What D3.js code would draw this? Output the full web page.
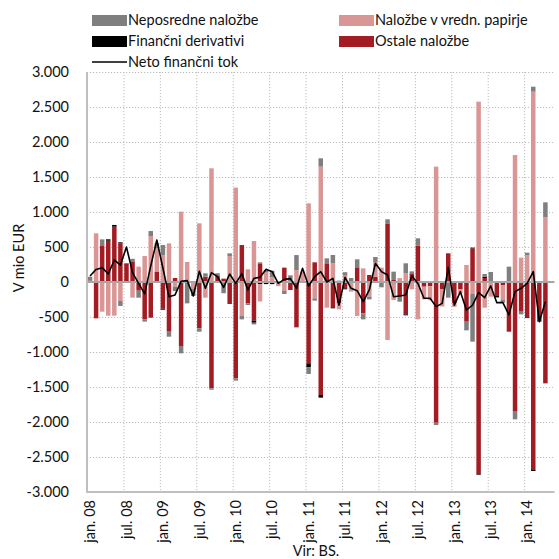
<!DOCTYPE html>
<html>
<head>
<meta charset="utf-8">
<script src="https://cdn.jsdelivr.net/npm/d3@7"></script>
<style>
  body { margin: 0; background: #fff; }
  svg { display: block; }
</style>
</head>
<body>
<script>
// monthly values, jan. 08 - apr. 14, mio EUR
const tickLabels = ["jan. 08", "jul. 08", "jan. 09", "jul. 09", "jan. 10", "jul. 10",
  "jan. 11", "jul. 11", "jan. 12", "jul. 12", "jan. 13", "jul. 13", "jan. 14"];
const monthCount = 77;

const nepos = [55, 0, 95, 0, 0, -71, 0, 45, -100, -33, 71, 71, 143, -71, -65, -105, -305, -100, -48, 48,
  -20, 30, -160, 38, -33, -48, -24, -24, 24, 29, 95, 0, -43, 95, 214, 0, -95, -33, 119, 71,
  119, 20, 50, 57, 114, -86, -38, 71, -76, 67, 119, -71, 143, 38, 105, 0, 0, -33, 0, -224,
  0, 0, -124, -681, 0, 38, 143, 0, -38, 219, -110, -38, 33, 71, 0, 214];

const vp = [0, 695, -424, -481, -481, -271, 0, -224, 219, 371, 657, 333, 386, 552, -65, 1005, 286, -100, 838, -224,
  1624, 0, 0, 371, 1348, -486, 181, 586, -248, 143, 67, -60, -128, 0, 171, 150, 1124, -233, 1648, -367,
  267, -85, 90, -138, -486, 195, -210, 210, 205, -829, -238, 57, 124, -105, -533, -181, -200, 1648, -250, 0,
  -50, -60, 243, -171, 2576, -367, -210, 0, -210, 0, 1814, 348, 386, 2719, 0, 924];

const deriv = [0, 0, 0, 20, 25, 15, 0, 0, 0, 0, 0, 0, -15, 0, 0, 0, 0, 0, 0, 0,
  0, 0, 0, 0, 0, 0, 0, -30, -30, -30, -30, 0, 0, 0, 0, 0, -57, 0, -38, 0,
  -14, 0, -14, 0, 0, 0, 0, 0, 0, 0, -20, 0, -14, 0, 0, 0, 0, 0, 0, 0,
  0, 0, 0, 10, -10, 19, 0, -20, 0, 0, 0, 0, -10, -14, 0, 0];

const ostale = [20, -519, 514, 590, 790, 552, 267, 286, -124, -533, -510, 150, -381, -710, 57, -914, 0, 0, -662, 76,
  -1519, 95, 48, -314, -1376, 528, -305, -552, 257, 0, 0, 0, 205, -114, -648, 0, -1162, 281, -1614, 267,
  -362, -305, -90, 0, 210, -448, 100, 76, 0, 829, 29, -210, -462, 114, 519, -67, -60, -2010, -100, 410,
  -305, -100, -567, 481, -2743, 57, 0, -200, -48, -710, -1852, -424, -505, -2686, -567, -1448];

const neto = [85, 180, 205, 115, 315, 240, 500, 133, -20, -170, 230, 600, 200, -210, -185, 10, 20, -200, 152, -90,
  133, 76, -76, 114, -20, 120, -114, 52, 67, 181, 148, -20, 38, 48, -90, 195, -57, 76, 148, 0,
  52, -330, 67, -90, -124, -280, -114, 267, 148, 100, -210, -200, -186, 90, -20, -233, -233, -352, -305, 210,
  -330, -138, -400, -330, -152, -224, -57, -295, -295, -470, -138, -90, -20, 148, -567, -281];

const series = [
  { key: "ostale", name: "Ostale naložbe", color: "#a31c23" },
  { key: "deriv", name: "Finančni derivativi", color: "#000000" },
  { key: "vp", name: "Naložbe v vredn. papirje", color: "#d99694" },
  { key: "nepos", name: "Neposredne naložbe", color: "#7f7f7f" },
];

const width = 559;
const height = 559;
const plot = { left: 87, right: 554.5, top: 72, bottom: 492 };
const font = "Lato, 'Open Sans', sans-serif";
const fontSize = 14.5;

const rows = nepos.map((d, i) => ({
  i, nepos: d, vp: vp[i], deriv: deriv[i], ostale: ostale[i], neto: neto[i],
}));

const x = d3.scaleBand()
  .domain(d3.range(monthCount))
  .range([plot.left, plot.right])
  .paddingInner(0.26)
  .paddingOuter(0.13);
const slotEdge = (i) => x(i) - (x.step() - x.bandwidth()) / 2;

const y = d3.scaleLinear().domain([-3000, 3000]).range([plot.bottom, plot.top]);

const locale = d3.formatLocale({ decimal: ",", thousands: ".", grouping: [3], currency: ["", " €"], minus: "-" });
const fmt = locale.format(",d");

const svg = d3.create("svg")
  .attr("width", width)
  .attr("height", height)
  .attr("viewBox", [0, 0, width, height])
  .attr("font-family", font);

// grid
const grid = svg.append("g")
  .attr("stroke", "#bdbdbd")
  .attr("stroke-width", 1)
  .attr("stroke-dasharray", "1.2,1.8");

grid.selectAll("line.h")
  .data(d3.range(-2500, 3001, 500).filter((v) => v !== 0))
  .join("line")
  .attr("x1", plot.left).attr("x2", plot.right)
  .attr("y1", (d) => y(d) + 0.5).attr("y2", (d) => y(d) + 0.5);

grid.selectAll("line.v")
  .data(d3.range(6, monthCount, 6))
  .join("line")
  .attr("x1", (d) => slotEdge(d) + 0.5).attr("x2", (d) => slotEdge(d) + 0.5)
  .attr("y1", plot.top).attr("y2", plot.bottom);

// bars
const stack = d3.stack()
  .keys(series.map((s) => s.key))
  .offset(d3.stackOffsetDiverging);

svg.append("g")
  .selectAll("g")
  .data(stack(rows))
  .join("g")
  .attr("fill", (s) => series.find((d) => d.key === s.key).color)
  .selectAll("rect")
  .data((s) => s.filter((d) => d[1] !== d[0]))
  .join("rect")
  .attr("x", (d) => x(d.data.i))
  .attr("width", x.bandwidth())
  .attr("y", (d) => y(Math.max(d[0], d[1])))
  .attr("height", (d) => Math.abs(y(d[0]) - y(d[1])));

// zero line
svg.append("line")
  .attr("x1", plot.left).attr("x2", plot.right)
  .attr("y1", y(0)).attr("y2", y(0))
  .attr("stroke", "#a6a6a6")
  .attr("stroke-width", 2);

// axes frame
svg.append("path")
  .attr("d", `M${plot.left},${plot.top}V${plot.bottom}H${plot.right}`)
  .attr("fill", "none")
  .attr("stroke", "#bfbfbf")
  .attr("stroke-width", 2);

// net flow line
const line = d3.line()
  .x((d) => x(d.i) + x.bandwidth() / 2)
  .y((d) => y(d.neto));

svg.append("path")
  .datum(rows)
  .attr("d", line)
  .attr("fill", "none")
  .attr("stroke", "#000")
  .attr("stroke-width", 1.6)
  .attr("stroke-linejoin", "round");

// y axis
svg.append("g")
  .attr("transform", `translate(${plot.left},0)`)
  .call(d3.axisLeft(y).tickValues(d3.range(-3000, 3001, 500)).tickFormat(fmt).tickSize(0).tickPadding(18))
  .call((g) => g.select(".domain").remove())
  .call((g) => g.selectAll("text")
    .attr("font-family", font)
    .attr("font-size", fontSize)
    .attr("fill", "#111"));

// x axis
svg.append("g")
  .attr("transform", `translate(0,${plot.bottom})`)
  .call(d3.axisBottom(x).tickValues(d3.range(0, monthCount, 6)).tickFormat((i) => tickLabels[i / 6]).tickSize(0))
  .call((g) => g.select(".domain").remove())
  .call((g) => g.selectAll("text")
    .attr("font-family", font)
    .attr("font-size", fontSize)
    .attr("fill", "#111")
    .attr("transform", "rotate(-90)")
    .attr("x", -8)
    .attr("y", 0)
    .attr("dy", "0.36em")
    .attr("text-anchor", "end"));

// axis titles
svg.append("text")
  .attr("transform", `translate(24,258) rotate(-90)`)
  .attr("text-anchor", "middle")
  .attr("font-size", fontSize)
  .attr("fill", "#111")
  .text("V mio EUR");

svg.append("text")
  .attr("x", 316)
  .attr("y", 556)
  .attr("text-anchor", "middle")
  .attr("font-size", fontSize)
  .attr("fill", "#111")
  .text("Vir: BS.");

// legend
const legendItems = [
  { s: series[3], x: 92, y: 20 },
  { s: series[2], x: 339, y: 20 },
  { s: series[1], x: 92, y: 41 },
  { s: series[0], x: 339, y: 41 },
];

const legend = svg.append("g").attr("font-size", fontSize).attr("fill", "#111");

const item = legend.selectAll("g")
  .data(legendItems)
  .join("g")
  .attr("transform", (d) => `translate(${d.x},${d.y})`);

item.append("rect")
  .attr("x", 0).attr("y", -5)
  .attr("width", 35).attr("height", 11)
  .attr("fill", (d) => d.s.color);

item.append("text")
  .attr("x", 36).attr("dy", "0.35em")
  .text((d) => d.s.name);

const netItem = legend.append("g").attr("transform", "translate(92,62)");
netItem.append("line")
  .attr("x1", 0).attr("x2", 35)
  .attr("stroke", "#000").attr("stroke-width", 1.6);
netItem.append("text")
  .attr("x", 36).attr("dy", "0.35em")
  .text("Neto finančni tok");

document.body.append(svg.node());
</script>
</body>
</html>
